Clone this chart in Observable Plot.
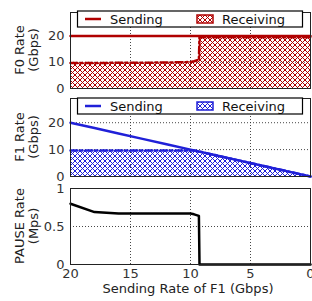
<!DOCTYPE html>
<html><head><meta charset="utf-8">
<script src="https://cdn.jsdelivr.net/npm/d3@7"></script>
<script src="https://cdn.jsdelivr.net/npm/@observablehq/plot@0.6"></script>
<style>
body{margin:0;background:#fff;}
#c{position:relative;width:312px;height:301px;overflow:hidden;font-family:"DejaVu Sans",sans-serif;}
#c svg{position:absolute;left:0;}
</style></head><body><div id="c"></div>
<script>
// Sending rate of F1 (Gbps) — x positions
const sendRateF1 = [20, 18, 16, 14, 12, 10, 9.7, 9.5, 9.3, 9.25, 8, 6, 4, 2, 0];
// F0 rates (Gbps)
const f0Sending   = [20, 20, 20, 20, 20, 20, 20, 20, 20, 20, 20, 20, 20, 20, 20];
const f0Receiving = [9.7, 9.75, 9.8, 9.85, 9.9, 10.1, 10.4, 10.7, 11, 19.6, 19.6, 19.6, 19.6, 19.6, 19.6];
// F1 rates (Gbps)
const f1Sending   = [20, 18, 16, 14, 12, 10, 9.7, 9.5, 9.3, 9.25, 8, 6, 4, 2, 0];
const f1Receiving = [9.7, 9.7, 9.7, 9.7, 9.7, 9.7, 9.7, 9.5, 9.3, 9.25, 8, 6, 4, 2, 0];
// PAUSE rate (Mps)
const pauseRate   = [0.80, 0.69, 0.67, 0.67, 0.67, 0.67, 0.66, 0.65, 0.64, 0, 0, 0, 0, 0, 0];

const xTicks = [20, 15, 10, 5, 0];
const xGrid = [15, 10, 5];
const rateTicks = [0, 10, 20];
const rateGrid = [10, 20];
const pauseTicks = [0, 0.5, 1];
const pauseGrid = [0.5, 1];
const legendLabels = ["Sending", "Receiving"];

const RED = "#b00000", BLUE = "#2020d8";
const container = document.getElementById("c");

function panel({top, height, marginBottom, yDomain, yTicks, yGrid, sendY, recvY, color, pid, label, legend, xAxis, solidY}) {
  const rows = sendRateF1.map((x, i) => ({x, s: sendY ? sendY[i] : null, r: recvY ? recvY[i] : null, p: solidY ? solidY[i] : null}));
  const marks = [
    Plot.gridX(xGrid, {stroke: "#333", strokeOpacity: 0.9, strokeDasharray: "1,2", strokeWidth: 1}),
    Plot.gridY(yGrid, {stroke: "#333", strokeOpacity: 0.9, strokeDasharray: "1,2", strokeWidth: 1})
  ];
  if (recvY) {
    marks.push(Plot.areaY(rows, {x: "x", y: "r", fill: `url(#hatch${pid})`, curve: "linear"}));
    marks.push(Plot.lineY(rows, {x: "x", y: "r", stroke: color, strokeWidth: 2.5, strokeDasharray: "7,3,2,3"}));
  }
  if (sendY) marks.push(Plot.lineY(rows, {x: "x", y: "s", stroke: color, strokeWidth: 2.5}));
  if (solidY) marks.push(Plot.lineY(rows, {x: "x", y: "p", stroke: "#000", strokeWidth: 2.5}));
  marks.push(Plot.frame({stroke: "#222", strokeWidth: 1}));

  const p = Plot.plot({
    width: 312, height, marginLeft: 70, marginRight: 2, marginTop: 12, marginBottom,
    style: {fontFamily: "DejaVu Sans, sans-serif", fontSize: "13px", color: "#333", background: "transparent", overflow: "visible"},
    x: {domain: [20, 0], ticks: xTicks, tickSize: 0, tickPadding: 4, label: null, axis: xAxis ? "bottom" : null, tickFormat: d => String(d)},
    y: {domain: yDomain, ticks: yTicks, tickSize: 0, tickPadding: 6, label: null, tickFormat: d => String(d)},
    marks
  });
  p.style.top = top + "px";
  const svg = d3.select(p);
  if (recvY) {
    const pat = svg.insert("defs", ":first-child").append("pattern")
      .attr("id", `hatch${pid}`).attr("patternUnits", "userSpaceOnUse")
      .attr("width", 5).attr("height", 5);
    pat.append("path").attr("d", "M-1,-1L6,6M6,-1L-1,6").attr("stroke", color).attr("stroke-width", 1).attr("fill", "none");
  }
  const plotH = height - 12 - marginBottom;
  const cy = 12 + plotH / 2;
  const lab = svg.append("g").attr("transform", `translate(0,${cy}) rotate(-90)`)
    .attr("font-family", "DejaVu Sans, sans-serif").attr("font-size", 13).attr("fill", "#222").attr("text-anchor", "middle");
  lab.append("text").attr("x", 0).attr("y", 19).attr("dominant-baseline", "central").text(label[0]);
  lab.append("text").attr("x", 0).attr("y", 33).attr("dominant-baseline", "central").text(label[1]);

  if (legend) {
    const by = legend.y;
    const g = svg.append("g").attr("font-family", "DejaVu Sans, sans-serif").attr("font-size", 13).attr("fill", "#111").attr("text-anchor", "start");
    g.append("rect").attr("x", 77.5).attr("y", by).attr("width", 225).attr("height", 16).attr("fill", "#fff").attr("stroke", "#000").attr("stroke-width", 1.2);
    g.append("line").attr("x1", 85).attr("x2", 101).attr("y1", by + 8).attr("y2", by + 8).attr("stroke", color).attr("stroke-width", 2.5);
    g.append("text").attr("x", 110).attr("y", by + 8).attr("dominant-baseline", "central").attr("text-anchor", "start").text(legendLabels[0]);
    g.append("rect").attr("x", 197).attr("y", by + 4).attr("width", 16).attr("height", 8).attr("fill", `url(#hatch${pid})`).attr("stroke", color).attr("stroke-width", 1.5);
    g.append("text").attr("x", 222).attr("y", by + 8).attr("dominant-baseline", "central").attr("text-anchor", "start").text(legendLabels[1]);
  }
  if (xAxis) {
    svg.append("text").attr("x", 188).attr("y", 117).attr("text-anchor", "middle")
      .attr("font-family", "DejaVu Sans, sans-serif").attr("font-size", 13).attr("fill", "#222")
      .text("Sending Rate of F1 (Gbps)");
  }
  container.appendChild(p);
}

panel({top: 0, height: 92, marginBottom: 4, yDomain: [0, 29], yTicks: rateTicks, yGrid: rateGrid,
  sendY: f0Sending, recvY: f0Receiving, color: RED, pid: "R", label: ["F0 Rate", "(Gbps)"], legend: {y: 11}});
panel({top: 86, height: 94, marginBottom: 4, yDomain: [0, 29], yTicks: rateTicks, yGrid: rateGrid,
  sendY: f1Sending, recvY: f1Receiving, color: BLUE, pid: "B", label: ["F1 Rate", "(Gbps)"], legend: {y: 12}});
panel({top: 176, height: 125, marginBottom: 37, yDomain: [0, 1], yTicks: pauseTicks, yGrid: pauseGrid,
  solidY: pauseRate, pid: "K", label: ["PAUSE Rate", "(Mps)"], xAxis: true});
</script></body></html>
